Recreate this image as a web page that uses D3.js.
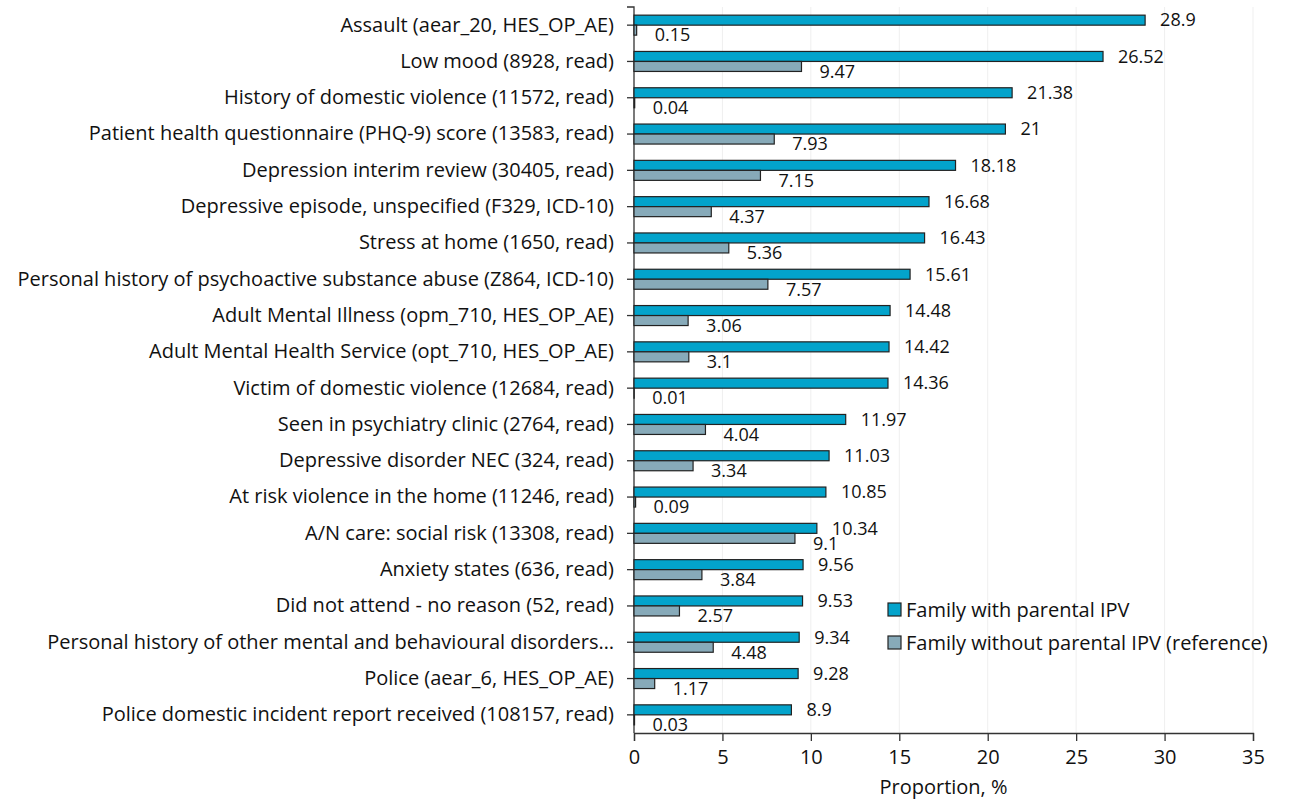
<!DOCTYPE html>
<html>
<head>
<meta charset="utf-8">
<script src="https://cdn.jsdelivr.net/npm/d3@7"></script>
<style>
  body { margin: 0; background: #fff; }
  svg text { font-family: "Open Sans", sans-serif; fill: #111; }
</style>
</head>
<body>
<main></main>
<script>
"use strict";

// Categories, top to bottom
const categories = [
  "Assault (aear_20, HES_OP_AE)",
  "Low mood (8928, read)",
  "History of domestic violence (11572, read)",
  "Patient health questionnaire (PHQ-9) score (13583, read)",
  "Depression interim review (30405, read)",
  "Depressive episode, unspecified (F329, ICD-10)",
  "Stress at home (1650, read)",
  "Personal history of psychoactive substance abuse (Z864, ICD-10)",
  "Adult Mental Illness (opm_710, HES_OP_AE)",
  "Adult Mental Health Service (opt_710, HES_OP_AE)",
  "Victim of domestic violence (12684, read)",
  "Seen in psychiatry clinic (2764, read)",
  "Depressive disorder NEC (324, read)",
  "At risk violence in the home (11246, read)",
  "A/N care: social risk (13308, read)",
  "Anxiety states (636, read)",
  "Did not attend - no reason (52, read)",
  "Personal history of other mental and behavioural disorders…",
  "Police (aear_6, HES_OP_AE)",
  "Police domestic incident report received (108157, read)"
];

// Proportion, % - family with parental IPV
const withIPV = [28.9, 26.52, 21.38, 21, 18.18, 16.68, 16.43, 15.61, 14.48, 14.42,
  14.36, 11.97, 11.03, 10.85, 10.34, 9.56, 9.53, 9.34, 9.28, 8.9];

// Proportion, % - family without parental IPV (reference)
const withoutIPV = [0.15, 9.47, 0.04, 7.93, 7.15, 4.37, 5.36, 7.57, 3.06, 3.1,
  0.01, 4.04, 3.34, 0.09, 9.1, 3.84, 2.57, 4.48, 1.17, 0.03];

const xTicks = [0, 5, 10, 15, 20, 25, 30, 35];
const seriesNames = ["Family with parental IPV", "Family without parental IPV (reference)"];
const seriesColors = ["#03a3cb", "#87aab9"];

const w = 1290;
const h = 802;
const margin = { top: 7, right: 37, bottom: 69, left: 634 };

const svg = d3.select("main").append("svg").attr("width", w).attr("height", h);

const xScale = d3.scaleLinear().domain([0, 35]).range([margin.left, w - margin.right]);
const yScale = d3.scaleBand().domain(categories).range([margin.top, h - margin.bottom]);
const barH = 10;

// faint gridlines
svg.append("g")
  .selectAll("line")
  .data(xTicks.slice(1))
  .enter()
  .append("line")
  .attr("x1", (d) => xScale(d))
  .attr("x2", (d) => xScale(d))
  .attr("y1", margin.top)
  .attr("y2", h - margin.bottom)
  .attr("stroke", "#efefef")
  .attr("stroke-width", 1);

// x axis
const xAxis = d3.axisBottom(xScale).tickValues(xTicks).tickSize(8).tickPadding(9).tickFormat(d3.format("d"));
const gx = svg.append("g").attr("transform", `translate(0, ${h - margin.bottom})`).call(xAxis);
gx.select(".domain").attr("stroke", "#333").attr("stroke-width", 1.3);
gx.selectAll(".tick line").attr("stroke", "#333").attr("stroke-width", 1.3);
gx.selectAll("text").style("font-size", "20px").attr("fill", "#111");

svg.append("text")
  .attr("x", (xScale(0) + xScale(35)) / 2)
  .attr("y", h - 8)
  .attr("text-anchor", "middle")
  .style("font-size", "20px")
  .text("Proportion, %");

// y axis
const yAxis = d3.axisLeft(yScale).tickSize(7).tickPadding(13);
const gy = svg.append("g").attr("transform", `translate(${margin.left}, 0)`).call(yAxis);
gy.select(".domain").attr("stroke", "#333").attr("stroke-width", 1.3).attr("d", `M-7,${margin.top}H0V${h - margin.bottom}`);
gy.selectAll(".tick line").attr("stroke", "#333").attr("stroke-width", 1.3);
gy.selectAll("text").style("font-size", "20px").attr("fill", "#111");

// bars
const rows = categories.map((c, i) => ({ c, a: withIPV[i], b: withoutIPV[i] }));
const center = (d) => yScale(d.c) + yScale.bandwidth() / 2;

const bars = svg.append("g");
bars.selectAll("rect.a")
  .data(rows)
  .enter()
  .append("rect")
  .attr("class", "a")
  .attr("x", xScale(0))
  .attr("y", (d) => center(d) - barH)
  .attr("width", (d) => xScale(d.a) - xScale(0))
  .attr("height", barH)
  .attr("fill", seriesColors[0])
  .attr("stroke", "#222")
  .attr("stroke-width", 1.2);

bars.selectAll("rect.b")
  .data(rows)
  .enter()
  .append("rect")
  .attr("class", "b")
  .attr("x", xScale(0))
  .attr("y", (d) => center(d))
  .attr("width", (d) => xScale(d.b) - xScale(0))
  .attr("height", barH)
  .attr("fill", seriesColors[1])
  .attr("stroke", "#222")
  .attr("stroke-width", 1.2);

// value labels
svg.append("g")
  .selectAll("text")
  .data(rows)
  .enter()
  .append("text")
  .attr("x", (d) => xScale(d.a) + 15)
  .attr("y", (d) => center(d) - barH / 2)
  .attr("dy", "0.35em")
  .style("font-size", "18px")
  .text((d) => String(d.a));

svg.append("g")
  .selectAll("text")
  .data(rows)
  .enter()
  .append("text")
  .attr("x", (d) => xScale(d.b) + 18)
  .attr("y", (d) => center(d) + barH / 2 + 5)
  .attr("dy", "0.35em")
  .style("font-size", "18px")
  .text((d) => String(d.b));

// legend
const legend = svg.append("g").attr("transform", `translate(888, 603)`);
seriesNames.forEach((name, i) => {
  const g = legend.append("g").attr("transform", `translate(0, ${i * 33})`);
  g.append("rect").attr("width", 13).attr("height", 13).attr("fill", seriesColors[i])
    .attr("stroke", "#222").attr("stroke-width", 1.2);
  g.append("text").attr("x", 18).attr("y", 7).attr("dy", "0.35em").style("font-size", "20px").text(name);
});
</script>
</body>
</html>
